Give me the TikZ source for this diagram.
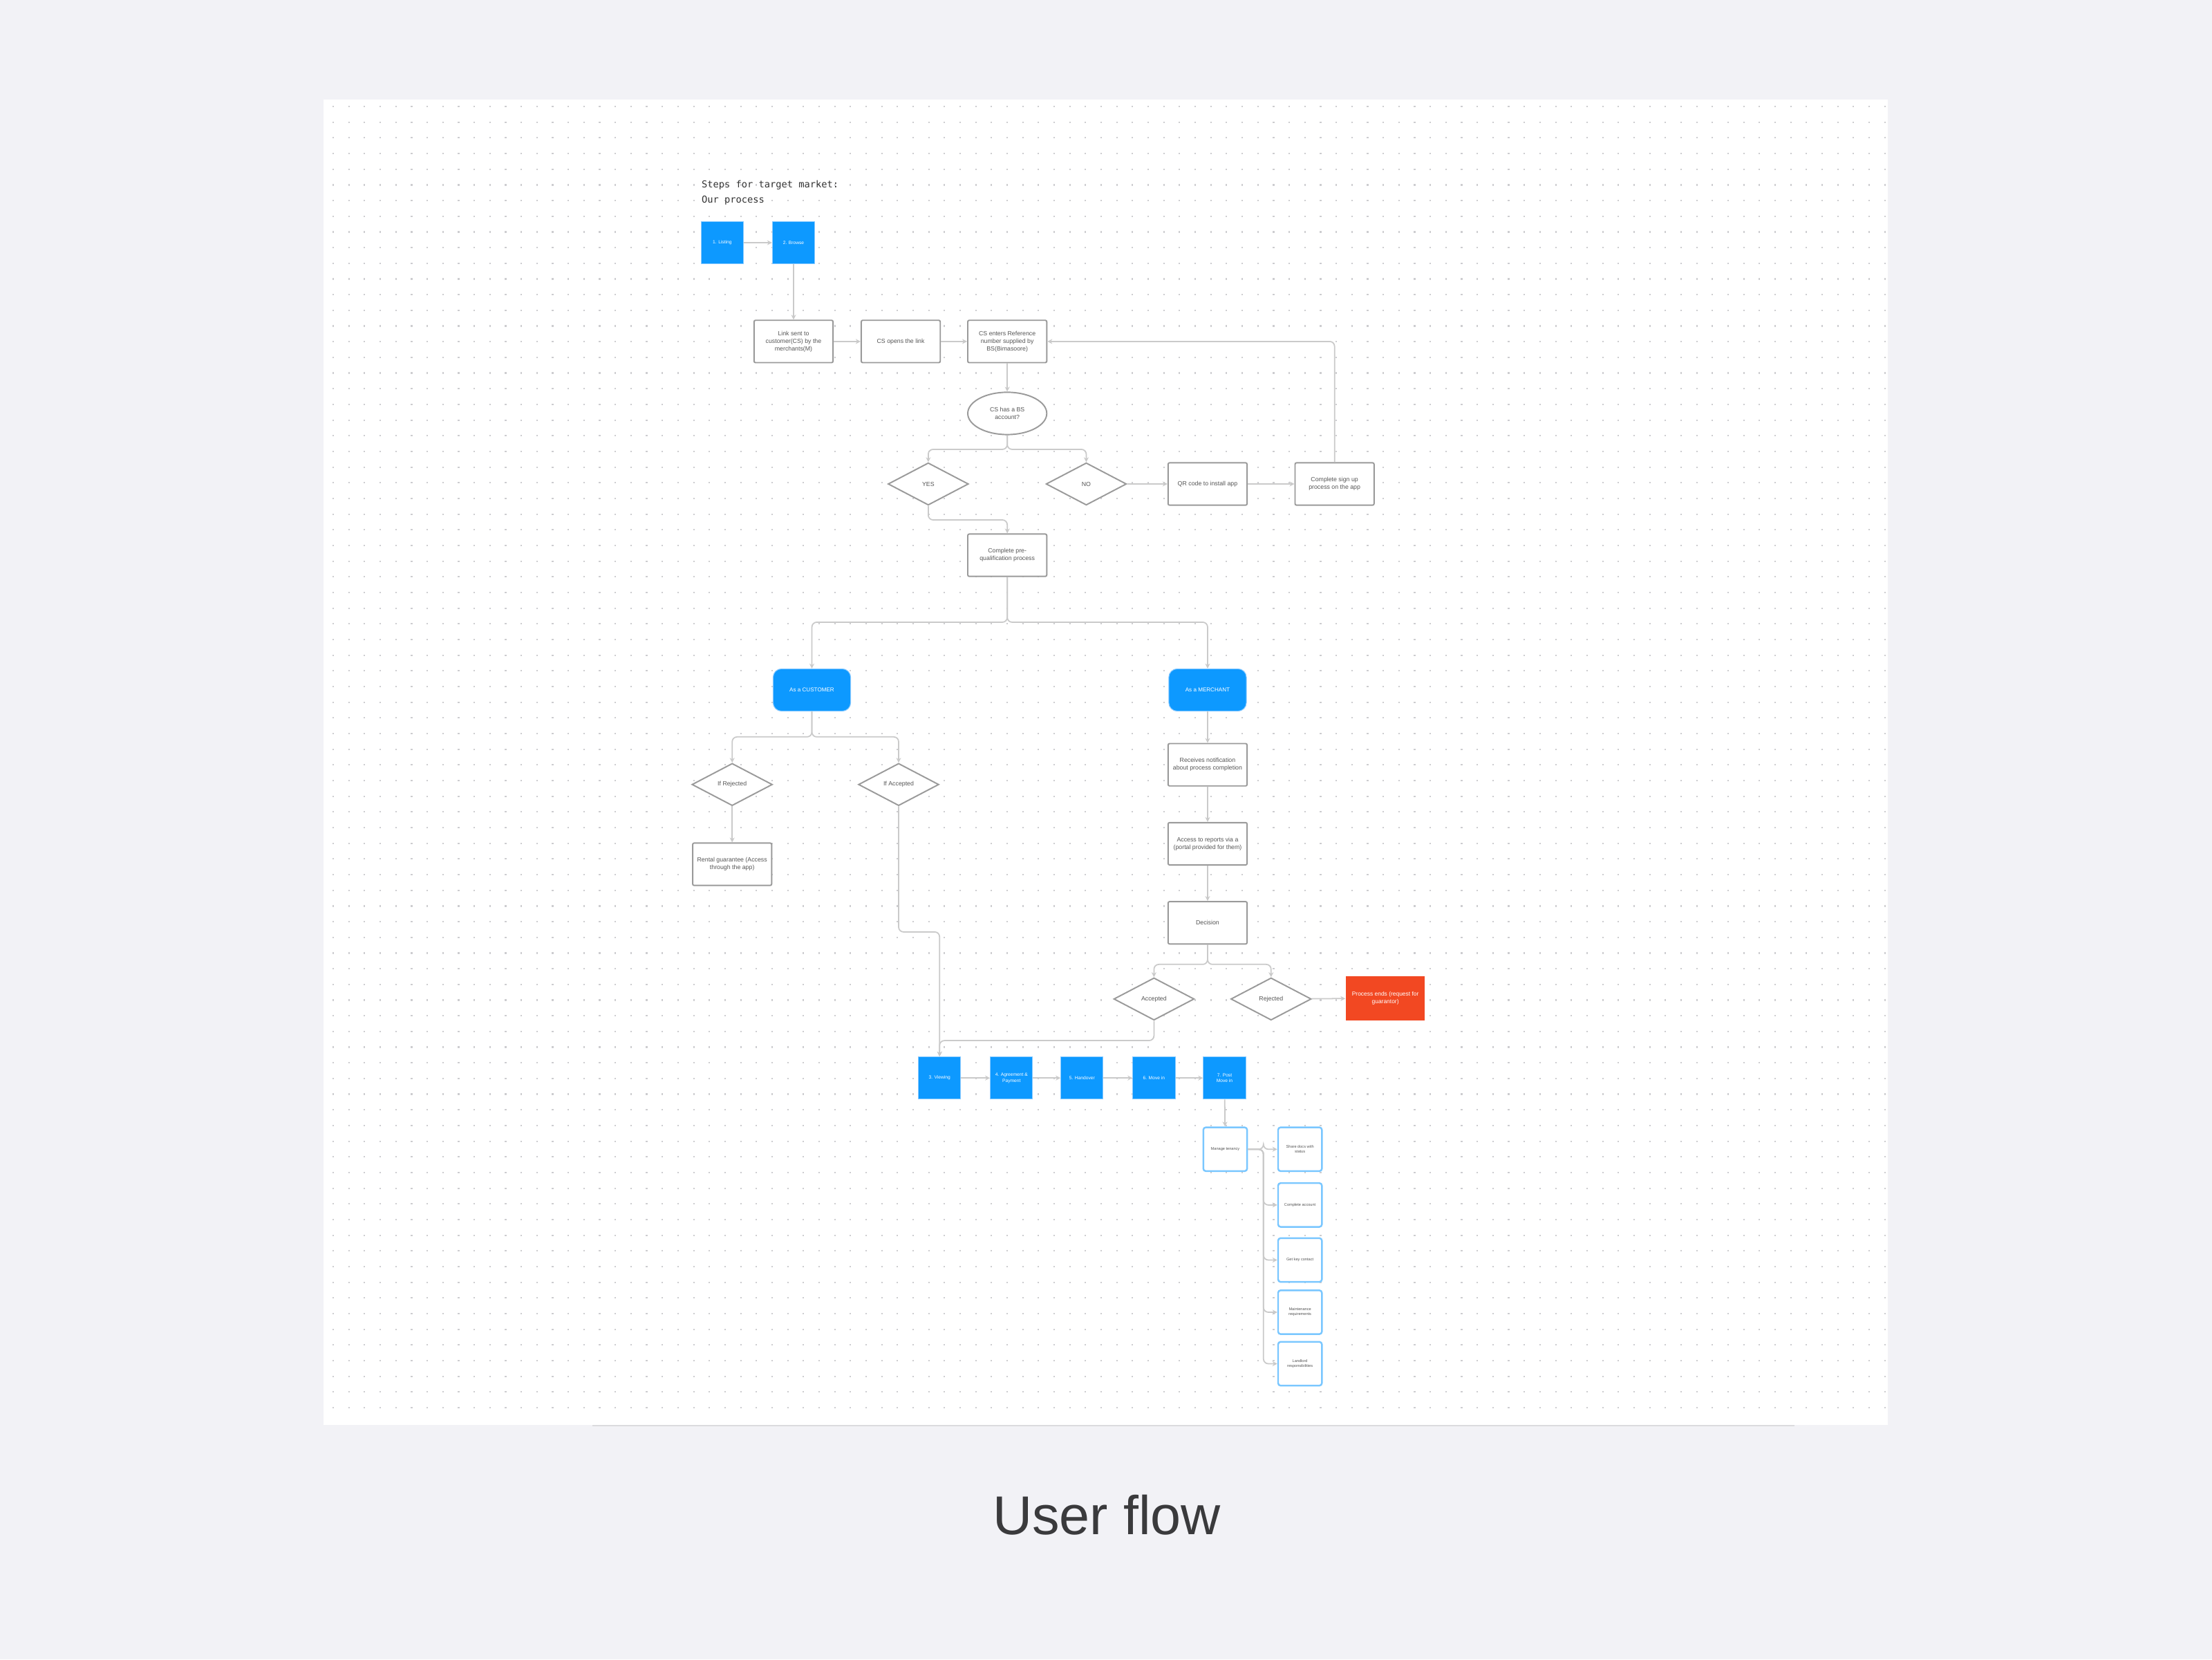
\documentclass[tikz,border=0pt]{standalone}
\usepackage{fontspec}
\setmainfont{Liberation Sans}
\newfontfamily\titlemono{DejaVu Sans Mono}
\usetikzlibrary{arrows.meta,shapes.geometric}

\definecolor{pagebg}{HTML}{F2F2F6}
\definecolor{dotgray}{HTML}{CDCDD0}
\definecolor{flowblue}{HTML}{0D99FF}
\definecolor{edgeblue}{HTML}{8CCBFF}
\definecolor{flowred}{HTML}{F24822}
\definecolor{boxline}{HTML}{9A9A9A}
\definecolor{linkgray}{HTML}{CACACA}
\definecolor{labelgray}{HTML}{555555}
\definecolor{captiongray}{HTML}{3A3A3C}

% one unit = one pixel of the 1568 wide board
\def\pu{0.58067pt}

\tikzset{
    tinytext/.style={font=\fontsize{2.5}{3.1}\selectfont, text=labelgray, align=center},
    flowbox/.style={tinytext, draw=boxline, line width=0.55pt, fill=white, rounded corners=0.6pt,
        minimum width=56*\pu, minimum height=30*\pu, inner sep=0pt},
    stepbox/.style={font=\fontsize{1.9}{2.4}\selectfont, text=white, align=center, fill=flowblue,
        draw=edgeblue, line width=0.3pt, minimum width=30*\pu, minimum height=30*\pu, inner sep=0pt},
    rolebox/.style={stepbox, font=\fontsize{2.3}{2.8}\selectfont, minimum width=55*\pu, rounded corners=6*\pu},
    choice/.style={tinytext, diamond, draw=boxline, line width=0.55pt, fill=white,
        minimum width=57*\pu, minimum height=30*\pu, inner sep=0pt},
    askoval/.style={tinytext, ellipse, draw=boxline, line width=0.55pt, fill=white,
        minimum width=56*\pu, minimum height=30*\pu, inner sep=0pt},
    endbox/.style={font=\fontsize{2.4}{3}\selectfont, text=white, align=center, fill=flowred,
        minimum width=56*\pu, minimum height=31*\pu, inner sep=0pt},
    taskbox/.style={font=\fontsize{1.6}{2}\selectfont, text=labelgray, align=center, draw=flowblue!55,
        line width=0.7pt, fill=white, rounded corners=1pt, minimum width=31*\pu, minimum height=31*\pu, inner sep=0pt},
    link/.style={draw=linkgray, line width=0.5pt, rounded corners=2pt, -{Stealth[length=2pt,width=2pt]}},
}

\begin{document}
\begin{tikzpicture}[x=\pu, y=-\pu]
    \useasboundingbox (0,0) rectangle (1568,1176);

    % ==========================================
    % Board: grey page, white canvas, dot grid
    % ==========================================
    \fill[pagebg] (0,0) rectangle (1568,1176);
    \fill[white] (229.3,70.5) rectangle (1338,1010);
    \draw[pagebg!80!gray, line width=0.5pt] (420,1010.3) -- (1272,1010.3);
    \foreach \k in {0,...,83}
        \draw[dotgray, line width=0.6pt, dash pattern=on 0.6pt off 5.851pt]
            (235.7,{75.5+11.11*\k}) -- (1338,{75.5+11.11*\k});

    \node[anchor=base, font=\fontsize{22.5}{27}\selectfont, text=captiongray] (caption) at (784.5,1087.7) {User flow};

    % ==========================================
    % Top: title and first steps
    % ==========================================
    \node[anchor=base west, inner sep=0pt, font=\titlemono\fontsize{3.9}{5}\selectfont, text=black!80] (title) at (497,133) {Steps for target market:};
    \node[anchor=base west, inner sep=0pt, font=\titlemono\fontsize{3.9}{5}\selectfont, text=black!80] (subtitle) at (497,144) {Our process};

    \node[stepbox] (listing) at (512,172) {1. Listing};
    \node[stepbox] (browse) at (562.5,172) {2. Browse};

    \node[flowbox] (linksent) at (562.5,242) {Link sent to\\customer(CS) by the\\merchants(M)};
    \node[flowbox] (opens) at (638.5,242) {CS opens the link};
    \node[flowbox] (enters) at (714,242) {CS enters Reference\\number supplied by\\BS(Bimasoore)};

    % account check
    \node[askoval] (hasacc) at (714,293) {CS has a BS\\account?};
    \node[choice] (yes) at (658,343) {YES};
    \node[choice] (no) at (770,343) {NO};
    \node[flowbox] (qrcode) at (856,343) {QR code to install app};
    \node[flowbox] (signup) at (946,343) {Complete sign up\\process on the app};
    \node[flowbox] (prequal) at (714,393.5) {Complete pre-\\qualification process};

    % ==========================================
    % Customer side and merchant side
    % ==========================================
    \node[rolebox] (customer) at (575.5,489) {As a CUSTOMER};
    \node[rolebox] (merchant) at (856,489) {As a MERCHANT};

    \node[choice] (ifrej) at (519,556) {If Rejected};
    \node[choice] (ifacc) at (637,556) {If Accepted};
    \node[flowbox] (rental) at (519,612.5) {Rental guarantee (Access\\through the app)};

    \node[flowbox] (notify) at (856,542) {Receives notification\\about process completion};
    \node[flowbox] (reports) at (856,598) {Access to reports via a\\(portal provided for them)};
    \node[flowbox] (decision) at (856,654) {Decision};
    \node[choice] (accepted) at (818,708) {Accepted};
    \node[choice] (rejected) at (901,708) {Rejected};
    \node[endbox] (ends) at (982,707.5) {Process ends (request for\\guarantor)};

    % ==========================================
    % Bottom: remaining steps and tenancy tasks
    % ==========================================
    \node[stepbox] (viewing) at (666,764) {3. Viewing};
    \node[stepbox] (agreement) at (717,764) {4. Agreement \&\\Payment};
    \node[stepbox] (handover) at (767,764) {5. Handover};
    \node[stepbox] (movein) at (818,764) {6. Move in};
    \node[stepbox] (postmove) at (868,764) {7. Post\\Move in};

    \node[taskbox] (tenancy) at (868.5,814.5) {Manage tenancy};
    \node[taskbox] (docs) at (921.5,814.5) {Share docs with\\status};
    \node[taskbox] (account) at (921.5,854) {Complete account};
    \node[taskbox] (contact) at (921.5,893) {Get key contact};
    \node[taskbox] (maintreq) at (921.5,930) {Maintenance\\requirements};
    \node[taskbox] (duties) at (921.5,966.5) {Landlord\\responsibilities};

    % ==========================================
    % Connectors
    % ==========================================
    \draw[link] (listing) -- (browse);
    \draw[link] (browse) -- (linksent);
    \draw[link] (linksent) -- (opens);
    \draw[link] (opens) -- (enters);
    \draw[link] (enters) -- (hasacc);
    \draw[link] (hasacc.south) -- ++(0,10) -| (yes.north);
    \draw[link] (hasacc.south) -- ++(0,10) -| (no.north);
    \draw[link] (no) -- (qrcode);
    \draw[link] (qrcode) -- (signup);
    \draw[link] (signup.north) |- (enters.east); % back to the reference step
    \draw[link] (yes.south) -- ++(0,10) -| (prequal.north);

    \draw[link] (prequal.south) -- ++(0,32) -| (customer.north);
    \draw[link] (prequal.south) -- ++(0,32) -| (merchant.north);

    \draw[link] (customer.south) -- ++(0,18) -| (ifrej.north);
    \draw[link] (customer.south) -- ++(0,18) -| (ifacc.north);
    \draw[link] (ifrej) -- (rental);
    \draw[link] (ifacc.south) -- ++(0,89) -| (viewing.north);

    \draw[link] (merchant) -- (notify);
    \draw[link] (notify) -- (reports);
    \draw[link] (reports) -- (decision);
    \draw[link] (decision.south) -- ++(0,14) -| (accepted.north);
    \draw[link] (decision.south) -- ++(0,14) -| (rejected.north);
    \draw[link] (rejected) -- (ends);
    \draw[link] (accepted.south) -- ++(0,14) -| (viewing.north);

    \draw[link] (viewing) -- (agreement);
    \draw[link] (agreement) -- (handover);
    \draw[link] (handover) -- (movein);
    \draw[link] (movein) -- (postmove);
    \draw[link] (postmove) -- (tenancy);
    \foreach \task in {docs,account,contact,maintreq,duties}
        \draw[link] (tenancy.east) -- ++(11,0) |- (\task.west);
\end{tikzpicture}
\end{document}
